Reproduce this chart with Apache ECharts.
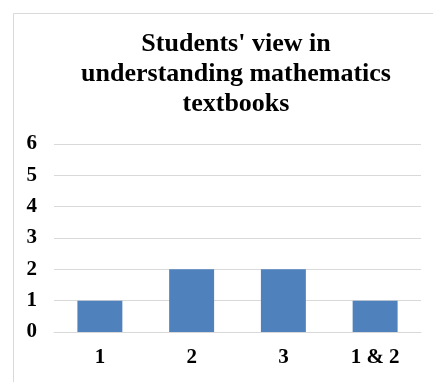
<!DOCTYPE html>
<html>
<head>
<meta charset="utf-8">
<script src="https://cdn.jsdelivr.net/npm/echarts@6/dist/echarts.min.js"></script>
<style>
html,body{margin:0;padding:0;background:#fff;}
#chart{width:433px;height:382px;}
</style>
</head>
<body>
<div id="chart"></div>
<script>
const titleText = "Students' view in\nunderstanding mathematics\ntextbooks";
const categories = ['1', '2', '3', '1 & 2'];
const values = [1, 2, 2, 1];
const yMin = 0;
const yMax = 6;
const yStep = 1;

const font = '"Liberation Serif", "Times New Roman", serif';
const chart = echarts.init(document.getElementById('chart'), null, {renderer: 'canvas'});
chart.setOption({
  animation: false,
  backgroundColor: '#fff',
  graphic: [{
    type: 'rect',
    left: 11, top: 11,
    shape: {width: 600, height: 600},
    style: {fill: 'none', stroke: '#d9d9d9', lineWidth: 1},
    silent: true
  }, {
    type: 'text',
    x: 236,
    y: 29,
    silent: true,
    style: {
      text: titleText,
      align: 'center',
      verticalAlign: 'top',
      fontFamily: font, fontWeight: 'bold', fontSize: 26, lineHeight: 30, fill: '#000'
    }
  }],
  grid: {left: 54, right: 12, top: 144, bottom: 50, containLabel: false},
  xAxis: {
    type: 'category',
    data: categories,
    axisTick: {show: false},
    axisLine: {show: true, lineStyle: {color: '#d9d9d9', width: 1}},
    axisLabel: {fontFamily: font, fontWeight: 'bold', fontSize: 21, color: '#000', margin: 15}
  },
  yAxis: {
    type: 'value',
    min: yMin, max: yMax, interval: yStep,
    axisLine: {show: false},
    axisTick: {show: false},
    splitLine: {lineStyle: {color: '#d9d9d9', width: 1}},
    axisLabel: {fontFamily: font, fontWeight: 'bold', fontSize: 21, color: '#000', margin: 17}
  },
  series: [{
    type: 'bar',
    data: values,
    barCategoryGap: '51%',
    itemStyle: {color: '#4f81bd'}
  }]
});
</script>
</body>
</html>
